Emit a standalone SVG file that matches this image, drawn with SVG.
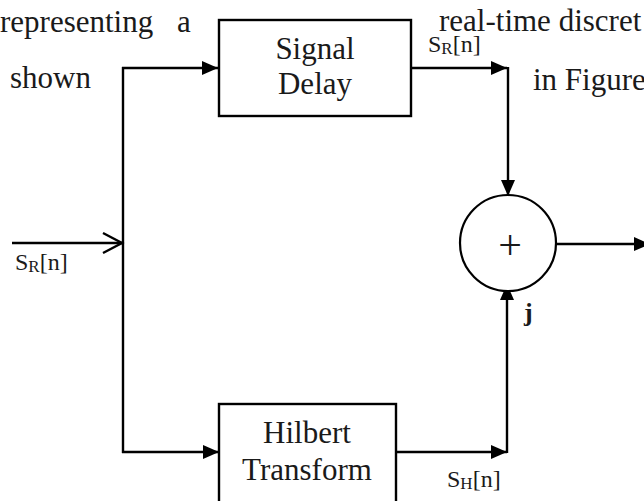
<svg xmlns="http://www.w3.org/2000/svg" width="644" height="501" viewBox="0 0 644 501">
  <style>
    .txt { font-family: "Liberation Serif", "Times New Roman", serif; fill: #1a1a1a; }
    .body { font-size: 31px; }
    .lbl { font-size: 24px; }
    .sub { font-size: 17px; }
    .box { fill: #fff; stroke: #000; stroke-width: 2.4; }
    .wire { fill: none; stroke: #000; stroke-width: 2.4; }
  </style>
  <defs>
    <marker id="head" markerUnits="userSpaceOnUse" markerWidth="16" markerHeight="14" refX="16" refY="7" orient="auto">
      <path d="M0,0 L16,7 L0,14 z" fill="#000"/>
    </marker>
    <marker id="open" markerUnits="userSpaceOnUse" markerWidth="24" markerHeight="24" refX="21" refY="12" orient="auto">
      <path d="M2,2 L21,12 L2,22" fill="none" stroke="#000" stroke-width="2.4"/>
    </marker>
  </defs>

  <!-- surrounding body text -->
  <g id="page-text" class="txt body">
    <text x="0" y="32">representing</text>
    <text x="177" y="32">a</text>
    <text x="439" y="31">real-time discret</text>
    <text x="10" y="88">shown</text>
    <text x="533" y="90">in Figure</text>
  </g>

  <!-- connectors -->
  <g id="connectors" class="wire">
    <path d="M12,243 H122" marker-end="url(#open)"/>
    <path d="M123,67 V453"/>
    <path d="M122,68 H218" marker-end="url(#head)"/>
    <path d="M122,452 H219" marker-end="url(#head)"/>
    <path d="M412,68 H507" marker-end="url(#head)"/>
    <path d="M508,67 V196" marker-end="url(#head)"/>
    <path d="M397,452 H507" marker-end="url(#head)"/>
    <path d="M507,453 V284" marker-end="url(#head)"/>
    <path d="M557,244 H650" marker-end="url(#head)"/>
  </g>

  <g id="signal-delay">
    <rect class="box" x="219" y="20" width="192" height="96"/>
    <text class="txt body" x="315" y="59" text-anchor="middle">Signal</text>
    <text class="txt body" x="315" y="94" text-anchor="middle">Delay</text>
  </g>

  <g id="hilbert-transform">
    <rect class="box" x="219" y="404" width="177" height="120"/>
    <text class="txt body" x="307" y="443" text-anchor="middle">Hilbert</text>
    <text class="txt body" x="307" y="480" text-anchor="middle">Transform</text>
  </g>

  <g id="adder">
    <circle cx="508" cy="243" r="48" fill="#fff" stroke="#000" stroke-width="2.2"/>
    <text class="txt" x="510" y="259" font-size="42" text-anchor="middle">+</text>
  </g>

  <!-- signal labels -->
  <g id="labels" class="txt lbl">
    <text x="15" y="270">S<tspan class="sub" dy="2">R</tspan><tspan dy="-2">[n]</tspan></text>
    <text x="428" y="52">S<tspan class="sub" dy="2">R</tspan><tspan dy="-2">[n]</tspan></text>
    <text x="447" y="487">S<tspan class="sub" dy="2">H</tspan><tspan dy="-2">[n]</tspan></text>
    <text x="524" y="321" font-size="26" font-weight="bold">j</text>
  </g>
</svg>
